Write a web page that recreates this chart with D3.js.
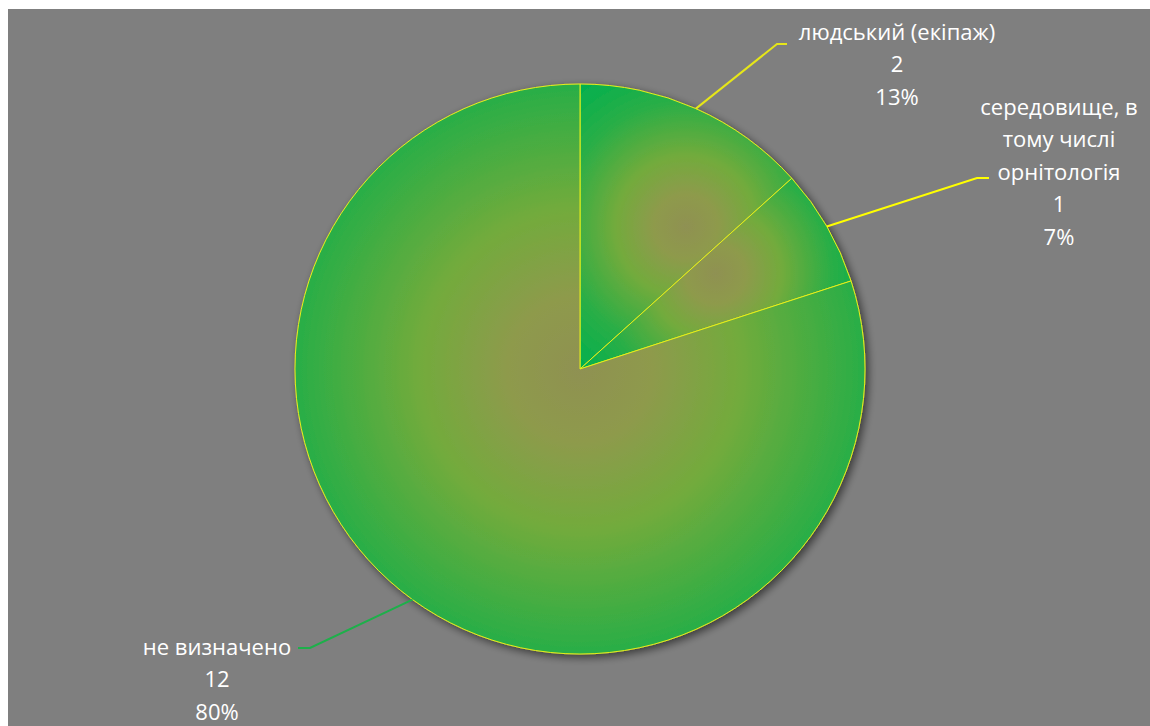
<!DOCTYPE html>
<html><head><meta charset="utf-8">
<script src="https://cdn.jsdelivr.net/npm/d3@7"></script>
<style>html,body{margin:0;padding:0;background:#fff;}svg{display:block;}</style>
</head><body>
<script>
const categories = ["людський (екіпаж)", "середовище, в тому числі орнітологія", "не визначено"];
const values = [2, 1, 12];
const labelLines = [["людський (екіпаж)"], ["середовище, в", "тому числі", "орнітологія"], ["не визначено"]];

const W = 1150, H = 726;
const cx = 580, cy = 369, R = 285;
// label layout: text centre x, first-line centre y, leader elbow point, leader end
const labelLayout = [
  {x: 897, y: 32, elbow: [777, 44], end: [787, 44], color: "#e6e619"},
  {x: 1059, y: 107, elbow: [977, 178], end: [989, 178], color: "#ffff00"},
  {x: 217, y: 647, elbow: [310, 648], end: [298, 648], color: "#1db04a"}
];
const lineH = 32.5;

const svg = d3.select("body").append("svg").attr("width", W).attr("height", H);
svg.append("rect").attr("x", 8).attr("y", 9).attr("width", W - 8).attr("height", H - 9).attr("fill", "#7f7f7f");

const defs = svg.append("defs");
const f = defs.append("filter").attr("id", "shadow").attr("x", "-20%").attr("y", "-20%").attr("width", "140%").attr("height", "140%");
f.append("feGaussianBlur").attr("in", "SourceAlpha").attr("stdDeviation", 4).attr("result", "b");
f.append("feOffset").attr("in", "b").attr("dx", 3).attr("dy", 3).attr("result", "o");
f.append("feComponentTransfer").attr("in", "o").attr("result", "o2").append("feFuncA").attr("type", "linear").attr("slope", 0.55);
const fm = f.append("feMerge");
fm.append("feMergeNode").attr("in", "o2");
fm.append("feMergeNode").attr("in", "SourceGraphic");

const total = d3.sum(values);
const pie = d3.pie().sort(null).value(d => d)(values);
const arc = d3.arc().innerRadius(0).outerRadius(R);

const g = svg.append("g").attr("transform", `translate(${cx},${cy})`);

// gradients centred on each slice's bounding box
const stops = [[0, "#8f9152"], [0.18, "#8e9a4c"], [0.4, "#72ab3c"], [0.7, "#2aae46"], [1, "#00b050"]];
pie.forEach((p, i) => {
  const path = document.createElementNS("http://www.w3.org/2000/svg", "path");
  path.setAttribute("d", arc(p));
  g.node().appendChild(path);
  const bb = path.getBBox();
  path.remove();
  const gx = bb.x + bb.width / 2, gy = bb.y + bb.height / 2;
  const gr = Math.hypot(bb.width, bb.height) / 2;
  const rg = defs.append("radialGradient").attr("id", "grad" + i)
    .attr("gradientUnits", "userSpaceOnUse").attr("cx", gx).attr("cy", gy).attr("r", gr)
    .attr("fx", gx).attr("fy", gy);
  stops.forEach(s => rg.append("stop").attr("offset", s[0]).attr("stop-color", s[1]));
});

const slices = g.append("g").attr("filter", "url(#shadow)");
slices.selectAll("path").data(pie).join("path")
  .attr("d", arc)
  .attr("fill", (d, i) => `url(#grad${i})`)
  .attr("stroke", "#e6ef1a").attr("stroke-width", 1);

// leader lines
const outer = d3.arc().innerRadius(R).outerRadius(R);
pie.forEach((p, i) => {
  const c = outer.centroid(p);
  const L = labelLayout[i];
  svg.append("polyline")
    .attr("points", [[cx + c[0], cy + c[1]], L.elbow, L.end].map(q => q.join(",")).join(" "))
    .attr("fill", "none").attr("stroke", L.color).attr("stroke-width", 2);
});

// labels
pie.forEach((p, i) => {
  const L = labelLayout[i];
  const lines = labelLines[i].concat([String(values[i]), Math.round(values[i] / total * 100) + "%"]);
  const t = svg.append("text").attr("text-anchor", "middle")
    .attr("font-family", "'Open Sans', sans-serif").attr("font-size", 22)
    .attr("fill", "#ffffff");
  lines.forEach((s, k) => {
    t.append("tspan").attr("x", L.x).attr("y", L.y + k * lineH).attr("dy", "0.35em").text(s);
  });
});
</script>
</body></html>
